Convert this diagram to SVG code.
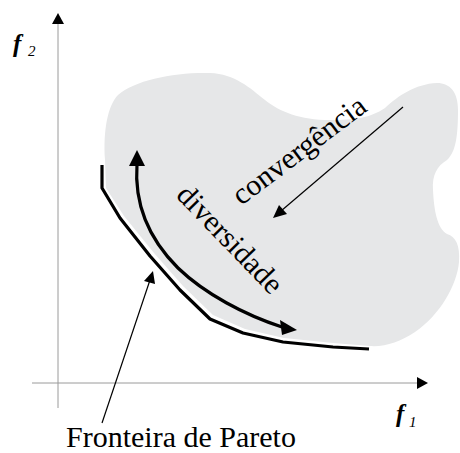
<svg xmlns="http://www.w3.org/2000/svg" width="460" height="453" viewBox="0 0 460 453">
<style>
.axis{stroke:#9a9a9a;stroke-width:1;fill:none}
.thick{stroke:#000;stroke-width:3.2;fill:none;stroke-linejoin:round}
.thin{stroke:#000;stroke-width:1.2;fill:none}
.head{fill:#000}
.lbl{font-size:30px;fill:#000}
.var{font-style:italic;fill:#000}
</style>
<rect width="460" height="453" fill="#fff"/>
<g id="region">
<path fill="#e6e7e8" d="M105,160 C103,130 108,105 118,95 C135,80 175,72 210,73 C235,74 250,88 265,100 C280,112 300,120 330,120 C355,120 370,118 385,108 C398,96 415,84 437,83 C450,83 458,92 458,110 C458,135 456,152 447,160 C437,166 432,175 433,190 C434,210 437,228 447,234 C456,237 460,245 459,262 C457,285 440,315 415,332 C400,342 385,347 370,346 L333,343 L284,338 L245,329 L213,315 L183,286 L154,253 L124,216 L106,188 Z"/>
</g>
<g id="axes">
<line class="axis" x1="58" y1="22" x2="58" y2="408"/>
<polygon class="head" points="58,13 52,24 64,24"/>
<line class="axis" x1="32" y1="383" x2="418" y2="383"/>
<polygon class="head" points="428,383 417,377 417,389"/>
</g>
<g id="f2" font-family="'Liberation Serif', 'DejaVu Serif', serif"><text class="var" x="13" y="52" font-size="25" font-weight="bold">f</text><text class="var" x="28" y="56" font-size="15">2</text></g>
<g id="f1" font-family="'Liberation Serif', 'DejaVu Serif', serif"><text class="var" x="396" y="422" font-size="25" font-weight="bold">f</text><text class="var" x="409" y="427" font-size="15">1</text></g>
<g id="pareto-front">
<polyline class="thick" points="102,165 102,188 120,218 150,256 180,290 210,319 243,333 283,342 333,347 369,349"/>
</g>
<g id="connectors">
<path class="thick" d="M137,164 C134,205 150,240 178,268 C205,294 245,315 282,327"/>
<polygon class="head" points="137,150 129,166 145,166"/>
<polygon class="head" points="297,330 280,320 282,335"/>
<line class="thin" x1="403" y1="107" x2="281" y2="211"/>
<polygon class="head" points="273,218 279,205 287,214"/>
<line class="thin" x1="102" y1="423" x2="150" y2="280"/>
<polygon class="head" points="153,271 144,281 155,284"/>
</g>
<g id="labels" font-family="'Liberation Serif', 'DejaVu Serif', serif">
<text class="lbl" transform="translate(305,158) rotate(-37)" text-anchor="middle">convergência</text>
<text class="lbl" transform="translate(223,246) rotate(46)" text-anchor="middle">diversidade</text>
<text class="lbl" x="66" y="447">Fronteira de Pareto</text>
</g>
</svg>
